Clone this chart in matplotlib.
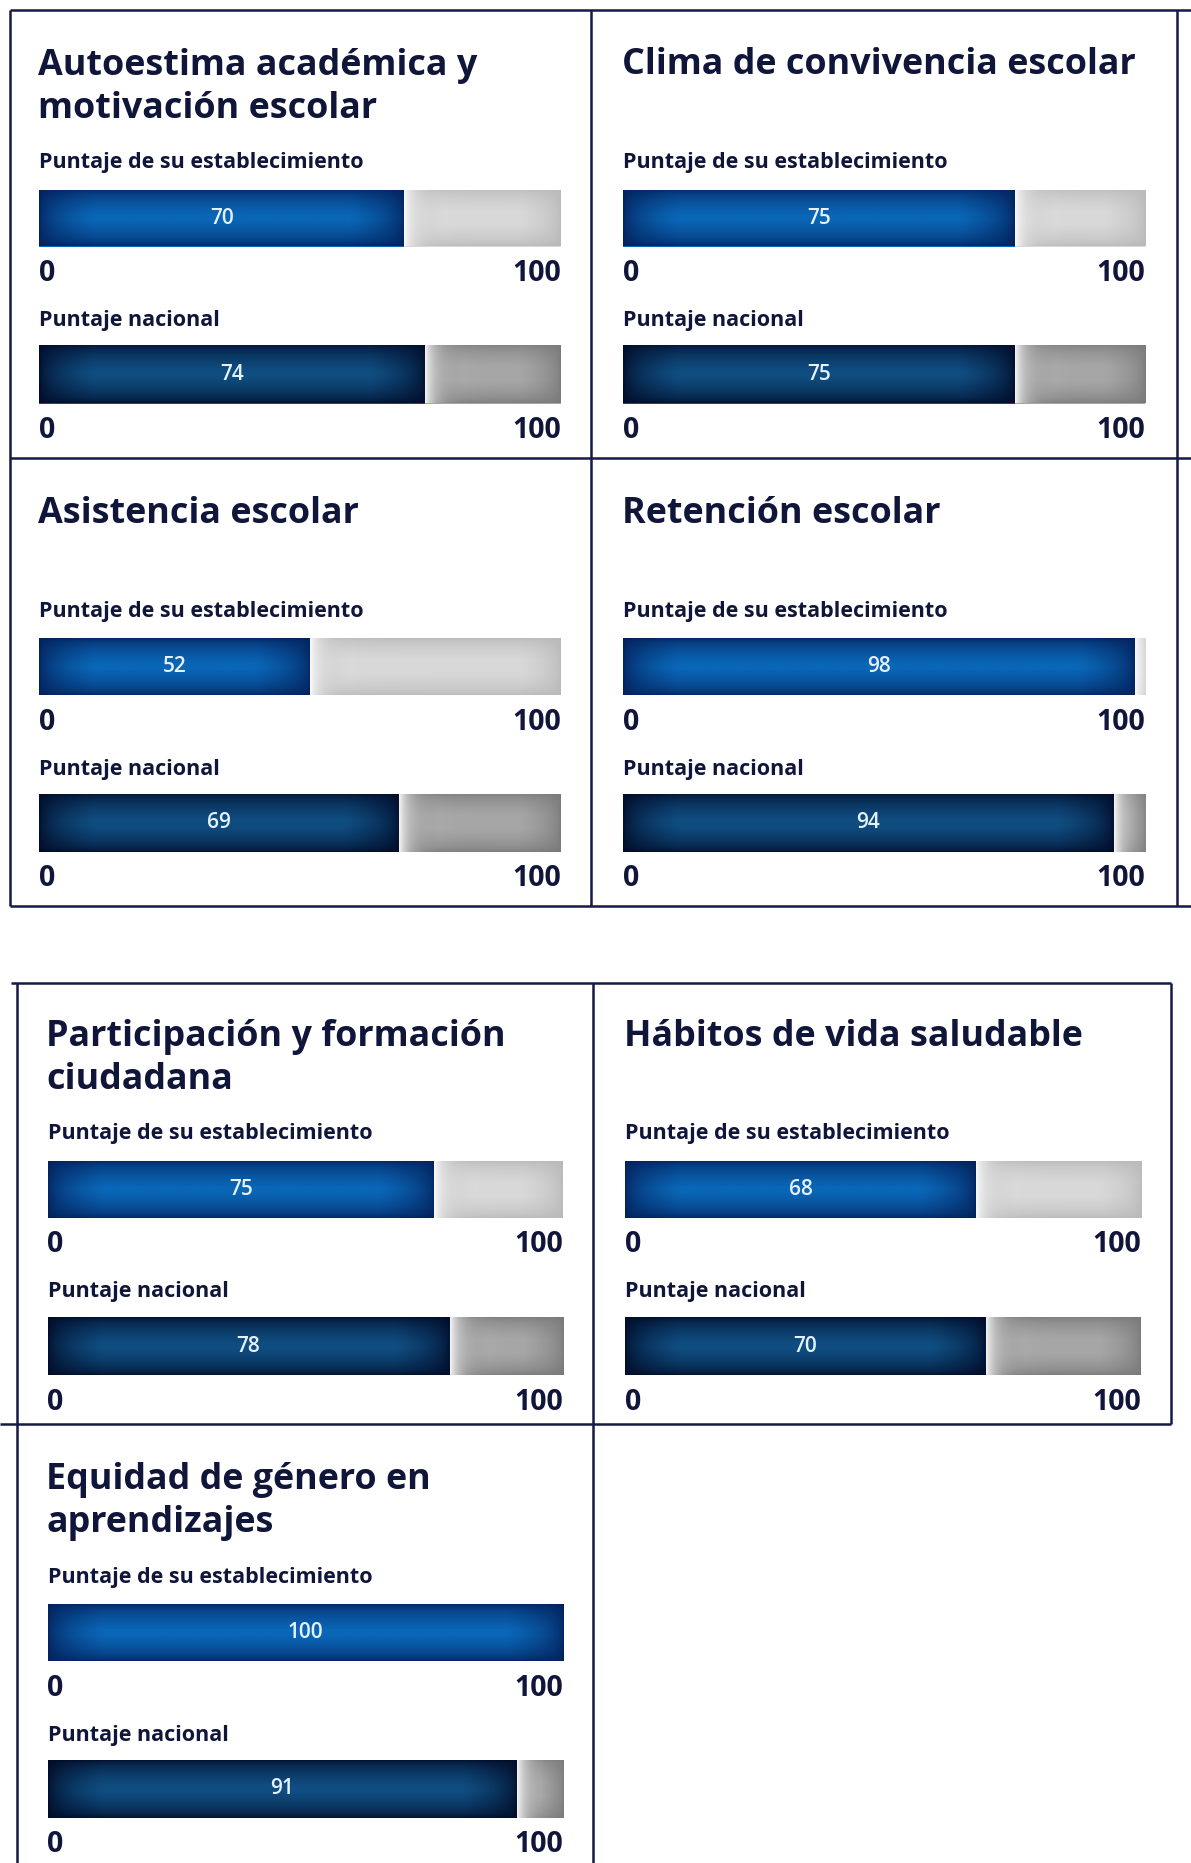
import numpy as np
import matplotlib
matplotlib.use("Agg")
import matplotlib.pyplot as plt
from matplotlib.lines import Line2D

# data
titles = [
    "Autoestima académica y\nmotivación escolar",
    "Clima de convivencia escolar",
    "Asistencia escolar",
    "Retención escolar",
    "Participación y formación\nciudadana",
    "Hábitos de vida saludable",
    "Equidad de género en\naprendizajes",
]
est_scores = [70, 75, 52, 98, 75, 68, 100]
nat_scores = [74, 75, 69, 94, 78, 70, 91]
est_label = "Puntaje de su establecimiento"
nat_label = "Puntaje nacional"
axis_min, axis_max = 0, 100

# layout (pixels of the 1191x1863 canvas)
W, H = 1191, 1863
panel_top = [9.5, 9.5, 458, 458, 981, 981, 1424]
bar_x0 = [39, 623, 39, 623, 47.5, 625, 47.5]
bar_x1 = [561, 1145, 561, 1145, 563, 1141, 563]

TXT = "#10153a"
LINE = "#151a45"
FONT = "Open Sans"

fig = plt.figure(figsize=(W / 100, H / 100), dpi=100)
fig.patch.set_facecolor("white")


def fx(x):
    return x / W


def fy(y):
    return 1 - y / H


def hline(y, x0, x1):
    fig.add_artist(Line2D([fx(x0), fx(x1)], [fy(y), fy(y)], transform=fig.transFigure,
                          color=LINE, lw=1.8, solid_capstyle="butt"))


def vline(x, y0, y1):
    fig.add_artist(Line2D([fx(x), fx(x)], [fy(y0), fy(y1)], transform=fig.transFigure,
                          color=LINE, lw=1.8, solid_capstyle="butt"))


def shade(w, h, center, edge, ex, ey, glow=0.0):
    # soft vignette used as bar texture
    w = max(int(w), 2)
    h = max(int(h), 2)
    xs = np.arange(w) + 0.5
    ys = np.arange(h) + 0.5
    dx = np.clip(np.minimum(xs, w - xs) / ex, 0, 1)
    dy = np.clip(np.minimum(ys, h - ys) / ey, 0, 1)
    t = np.outer(np.sqrt(dy), np.sqrt(dx))
    c = np.array(matplotlib.colors.to_rgb(center))
    e = np.array(matplotlib.colors.to_rgb(edge))
    img = e + (c - e) * t[..., None]
    if glow:
        g = np.exp(-xs / glow)[None, :, None]
        img = img + (1 - img) * g * 0.95
    return np.clip(img, 0, 1)


def draw_bar(x0, x1, y0, y1, value, center, edge, rest_center, rest_edge):
    ax = fig.add_axes([fx(x0), fy(y1), (x1 - x0) / W, (y1 - y0) / H])
    wpx = (x1 - x0) * value / (axis_max - axis_min)
    rpx = (x1 - x0) - wpx
    hpx = y1 - y0
    p = ax.barh(0.5, value, height=1, left=0, color=center, edgecolor="none")[0]
    im = ax.imshow(shade(wpx, hpx, center, edge, 55, 26), extent=(0, value, 0, 1),
                   aspect="auto", interpolation="bilinear", zorder=2)
    im.set_clip_path(p)
    if value < axis_max:
        q = ax.barh(0.5, axis_max - value, height=1, left=value, color=rest_center,
                    edgecolor="none")[0]
        im2 = ax.imshow(shade(rpx, hpx, rest_center, rest_edge, 40, 22, glow=12),
                        extent=(value, axis_max, 0, 1), aspect="auto",
                        interpolation="bilinear", zorder=2)
        im2.set_clip_path(q)
    ax.text(value / 2, 0.5, str(value), ha="center", va="center", color="#e6f1ff",
            fontsize=15, fontweight="semibold", family=FONT, zorder=3)
    ax.set_xlim(axis_min, axis_max)
    ax.set_ylim(0, 1)
    ax.axis("off")


def ticks(x0, x1, y):
    fig.text(fx(x0), fy(y), str(axis_min), ha="left", va="center", color=TXT,
             fontsize=20.5, fontweight="bold", family=FONT)
    fig.text(fx(x1), fy(y), str(axis_max), ha="right", va="center", color=TXT,
             fontsize=20.5, fontweight="bold", family=FONT)


# frame lines
hline(9.5, 9.5, W)
hline(458, 9.5, W)
hline(906, 9.5, W)
vline(9.5, 9.5, 906)
vline(591, 9.5, 906)
vline(1177, 9.5, 906)

hline(983, 11, 1171)
hline(1424, 0, 1171)
vline(16.6, 983, H)
vline(593, 983, H)
vline(1171, 983, 1424)

for i, title in enumerate(titles):
    top = panel_top[i]
    x0, x1 = bar_x0[i], bar_x1[i]
    for j, line in enumerate(title.split("\n")):
        fig.text(fx(x0 - 1), fy(top + 56 + 43 * j), line, ha="left", va="center",
                 color=TXT, fontsize=25.8, fontweight="bold", family=FONT)
    fig.text(fx(x0), fy(top + 153), est_label, ha="left", va="center", color=TXT,
             fontsize=15.5, fontweight="bold", family=FONT)
    draw_bar(x0, x1, top + 180, top + 237, est_scores[i],
             "#0a66b6", "#03205a", "#d8d8d8", "#b8b8b8")
    ticks(x0, x1, top + 264)
    fig.text(fx(x0), fy(top + 311), nat_label, ha="left", va="center", color=TXT,
             fontsize=15.5, fontweight="bold", family=FONT)
    draw_bar(x0, x1, top + 336, top + 394, nat_scores[i],
             "#0f4d80", "#010a26", "#a6a6a6", "#787878")
    ticks(x0, x1, top + 421)

fig.savefig("out.png", dpi=100, facecolor="white")
